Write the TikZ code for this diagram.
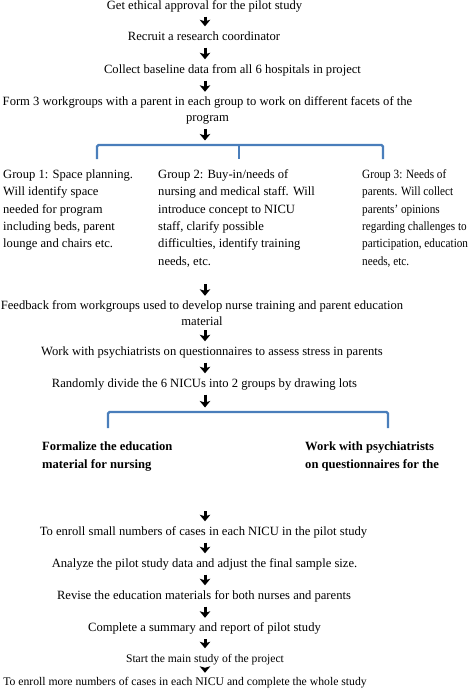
\documentclass[tikz,border=0pt]{standalone}
\usepackage{fontspec}
\setmainfont{Liberation Serif}
\newfontfamily\narrowserif[FakeStretch=0.89]{Liberation Serif}
\usetikzlibrary{arrows.meta}

\definecolor{bracketblue}{RGB}{74,126,187}

\tikzset{
  stepnode/.style={inner sep=0pt, text height=9pt, text depth=3pt, font=\fontsize{12.6}{16}\selectfont},
  twoline/.style={inner sep=0pt, anchor=north, align=center, font=\fontsize{12.6}{16}\selectfont},
  groupnode/.style={inner sep=0pt, anchor=north west, align=left, font=\fontsize{12.6}{17.4}\selectfont},
  boldnode/.style={inner sep=0pt, anchor=north west, align=left, font=\fontsize{12.6}{18}\selectfont\bfseries},
  flow/.style={line width=3pt, -{Stealth[width=10.5pt,length=6.5pt,inset=1.5pt]}, shorten <=4.5pt, shorten >=4.5pt},
  bracket/.style={draw=bracketblue, line width=2.3pt, rounded corners=1.5pt},
}

\begin{document}
\begin{tikzpicture}[x=1pt, y=-1pt]

\useasboundingbox (0, 0) rectangle (469, 689);

% Axis of the arrows
\coordinate (ax) at (205, 0);

% Preparation
\node (ethics) at (204.5, 6) [stepnode] {Get ethical approval for the pilot study};
\node (coord) at (204, 37) [stepnode] {Recruit a research coordinator};
\node (baseline) at (232.5, 70) [stepnode] {Collect baseline data from all 6 hospitals in project};
\node (workgroups) at (207.5, 96.3) [twoline] {Form 3 workgroups with a parent in each group to work on different facets of the\\program};

% Split into three workgroups
\coordinate (split1) at (205, 145);
\draw[bracket] (97, 159) |- (383, 145) -- (383, 159);
\draw[bracket] (239, 145) -- (239, 159);

\node (group1) at (3, 169.3) [groupnode] {Group 1: Space planning.\\Will identify space\\needed for program\\including beds, parent\\lounge and chairs etc.};
\node (group2) at (158, 169.3) [groupnode] {Group 2: Buy-in/needs of\\nursing and medical staff. Will\\introduce concept to NICU\\staff, clarify possible\\difficulties, identify training\\needs, etc.};
\node (group3) at (362, 169.3) [groupnode, font=\fontsize{12.6}{17.4}\narrowserif] {Group 3: Needs of\\parents. Will collect\\parents’ opinions\\regarding challenges to\\participation, education\\needs, etc.};

% Materials and randomisation
\coordinate (merge1) at (205, 284);
\node (feedback) at (202, 300.3) [twoline] {Feedback from workgroups used to develop nurse training and parent education\\material};
\node (psych) at (212, 352) [stepnode] {Work with psychiatrists on questionnaires to assess stress in parents};
\node (lots) at (204.5, 384) [stepnode] {Randomly divide the 6 NICUs into 2 groups by drawing lots};

% Split into two groups
\coordinate (split2) at (205, 412);
\draw[bracket] (108, 428) |- (388, 412) -- (388, 428);

\node (nursing) at (42, 441.3) [boldnode] {Formalize the education\\material for nursing};
\node (parents) at (305, 441.3) [boldnode] {Work with psychiatrists\\on questionnaires for the};

% Pilot and main study
\coordinate (merge2) at (205, 511);
\node (pilot) at (203.5, 532) [stepnode] {To enroll small numbers of cases in each NICU in the pilot study};
\node (analyze) at (204.5, 564) [stepnode] {Analyze the pilot study data and adjust the final sample size.};
\node (revise) at (204, 596) [stepnode] {Revise the education materials for both nurses and parents};
\node (report) at (204.5, 628.5) [stepnode] {Complete a summary and report of pilot study};
\node (mainstudy) at (205, 659) [stepnode, font=\fontsize{11.6}{14}\selectfont] {Start the main study of the project};
\node (complete) at (185, 682) [stepnode, font=\fontsize{11.7}{14}\selectfont] {To enroll more numbers of cases in each NICU and complete the whole study};

% Arrows
\draw[flow] (ethics.south -| ax) -- (coord.north -| ax);
\draw[flow] (coord.south -| ax) -- (baseline.north -| ax);
\draw[flow] (baseline.south -| ax) -- (workgroups.north -| ax);
\draw[flow] (workgroups.south -| ax) -- (split1);
\draw[flow, shorten <=0pt] (merge1) -- (feedback.north -| ax);
\draw[flow] (feedback.south -| ax) -- (psych.north -| ax);
\draw[flow] (psych.south -| ax) -- (lots.north -| ax);
\draw[flow] (lots.south -| ax) -- (split2);
\draw[flow, shorten <=0pt] (merge2) -- (pilot.north -| ax);
\draw[flow] (pilot.south -| ax) -- (analyze.north -| ax);
\draw[flow] (analyze.south -| ax) -- (revise.north -| ax);
\draw[flow] (revise.south -| ax) -- (report.north -| ax);
\draw[flow] (report.south -| ax) -- (mainstudy.north -| ax);
\draw[flow, shorten <=3pt, shorten >=3pt] (mainstudy.south -| ax) -- (complete.north -| ax);

\end{tikzpicture}
\end{document}
